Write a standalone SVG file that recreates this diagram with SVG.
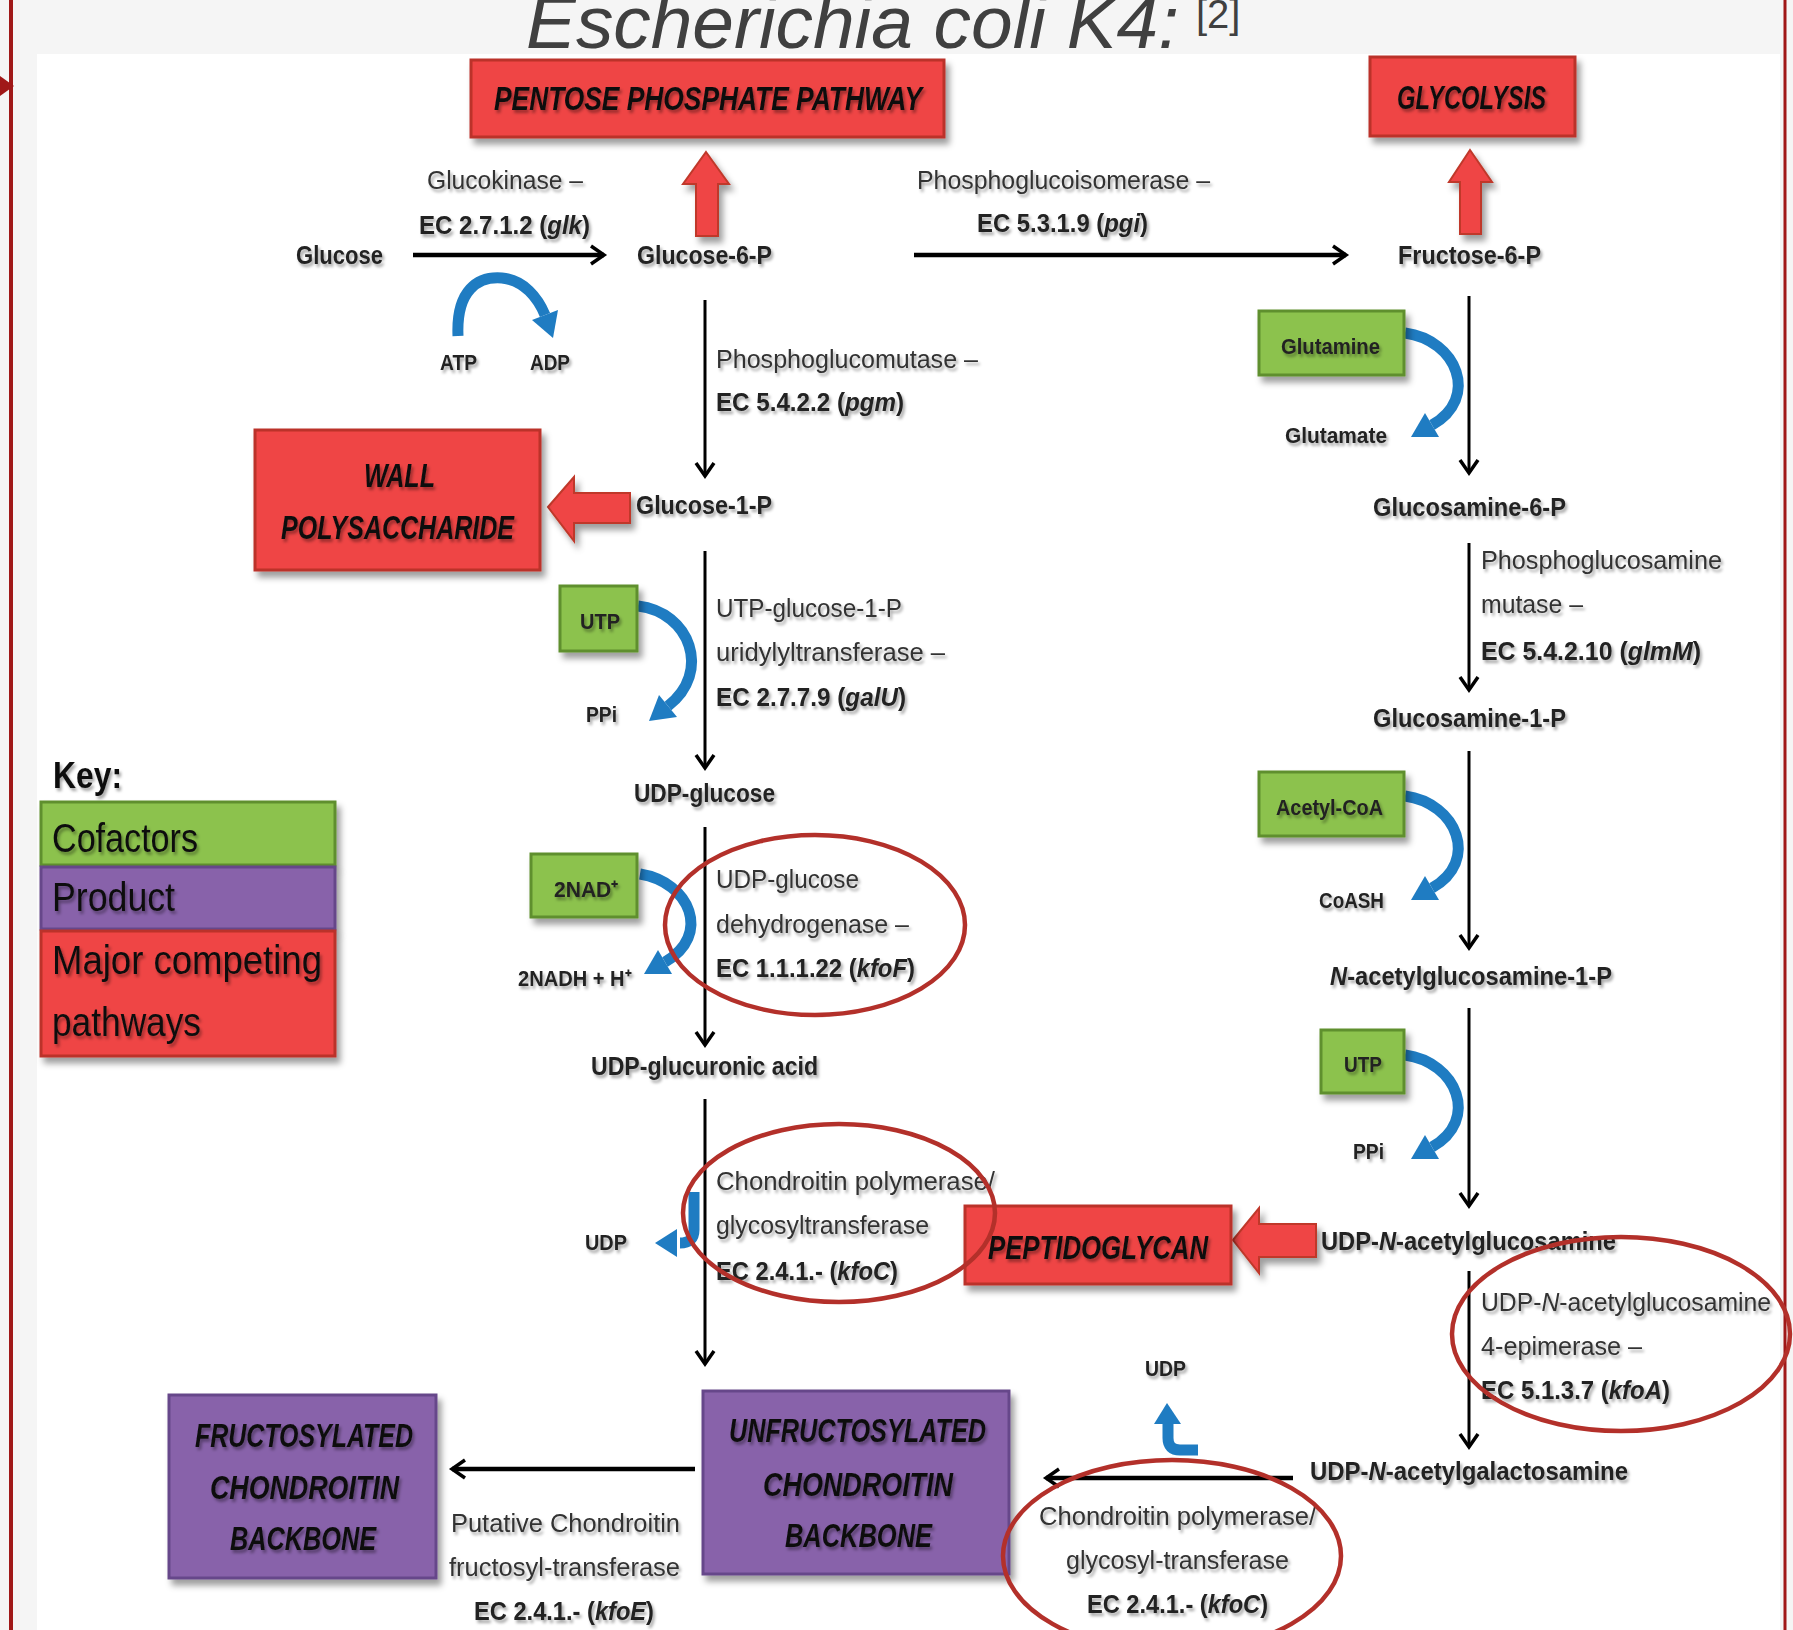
<svg xmlns="http://www.w3.org/2000/svg" width="1793" height="1630" viewBox="0 0 1793 1630">
<defs>
<filter id="sh" x="-10%" y="-10%" width="130%" height="140%"><feDropShadow dx="4" dy="6" stdDeviation="3" flood-color="#000" flood-opacity="0.38"/></filter>
<filter id="ts" x="-5%" y="-30%" width="115%" height="170%"><feDropShadow dx="2" dy="3" stdDeviation="1.6" flood-color="#000" flood-opacity="0.35"/></filter>
<marker id="ah" markerUnits="userSpaceOnUse" markerWidth="26" markerHeight="26" viewBox="0 0 26 26" refX="20" refY="13" orient="auto"><path d="M7,4 L20,13 L7,22" fill="none" stroke="#000" stroke-width="3.5" stroke-linejoin="miter"/></marker>
</defs>
<style>
text{font-family:"Liberation Sans Narrow","Liberation Sans",Arial,sans-serif;filter:url(#ts);}
.m{font-size:26px;font-weight:bold;fill:#222;}
.e{font-size:26px;fill:#333;}
.eb{font-size:26px;font-weight:bold;fill:#222;}
.s{font-size:22px;font-weight:bold;fill:#222;}
.bt{font-size:34px;font-weight:bold;font-style:italic;fill:#111;}
.k{font-size:40px;fill:#111;}
.red{fill:#ef4545;stroke:#bb3229;stroke-width:3;filter:url(#sh);}
.grn{fill:#8cc24e;stroke:#5e8f2e;stroke-width:3;filter:url(#sh);}
.pur{fill:#8862aa;stroke:#66468a;stroke-width:3;filter:url(#sh);}
.ln{stroke:#000;fill:none;marker-end:url(#ah);}
.blue{stroke:#1f7cc2;stroke-width:11;fill:none;}
.bh{fill:#1f7cc2;}
.ring{fill:none;stroke:#b3302a;stroke-width:4.5;}
.barr{fill:#ef4545;stroke:#c0392b;stroke-width:2;filter:url(#sh);}
</style>

<rect x="0" y="0" width="1793" height="1630" fill="#f5f5f5"/>
<rect x="37" y="54" width="1743" height="1576" fill="#ffffff"/>
<line x1="11" y1="0" x2="11" y2="1630" stroke="#a01818" stroke-width="4"/>
<polygon points="0,76 14,86 0,96" fill="#a01818"/>
<line x1="1785" y1="0" x2="1785" y2="1630" stroke="#a01818" stroke-width="3"/>

<g id="title">
<text x="526" y="48" font-size="74" font-style="italic" fill="#404040" textLength="653" lengthAdjust="spacingAndGlyphs" style="font-family:'Liberation Sans',Arial,sans-serif;filter:none">Escherichia coli K4:</text>
<text x="1196" y="28" font-size="40" fill="#404040" style="font-family:'Liberation Sans',Arial,sans-serif;filter:none">[2]</text>
</g>

<g id="connectors">
<line class="ln" x1="413" y1="255" x2="604" y2="255" stroke-width="4.5"/>
<line class="ln" x1="914" y1="255" x2="1346" y2="255" stroke-width="4.5"/>
<line class="ln" x1="705" y1="300" x2="705" y2="476" stroke-width="3"/>
<line class="ln" x1="705" y1="551" x2="705" y2="768" stroke-width="3"/>
<line class="ln" x1="705" y1="827" x2="705" y2="1045" stroke-width="3"/>
<line class="ln" x1="705" y1="1099" x2="705" y2="1364" stroke-width="3"/>
<line class="ln" x1="695" y1="1469" x2="452" y2="1469" stroke-width="4.5"/>
<line class="ln" x1="1293" y1="1478" x2="1046" y2="1478" stroke-width="4.5"/>
<line class="ln" x1="1469" y1="296" x2="1469" y2="473" stroke-width="3"/>
<line class="ln" x1="1469" y1="543" x2="1469" y2="690" stroke-width="3"/>
<line class="ln" x1="1469" y1="751" x2="1469" y2="948" stroke-width="3"/>
<line class="ln" x1="1469" y1="1008" x2="1469" y2="1206" stroke-width="3"/>
<line class="ln" x1="1469" y1="1271" x2="1469" y2="1447" stroke-width="3"/>

<polygon class="barr" points="706,152 729,184 718,184 718,236 696,236 696,184 683,184"/>
<polygon class="barr" points="1470,150 1492,182 1481,182 1481,234 1460,234 1460,182 1449,182"/>
<polygon class="barr" points="548,507 574,477 574,493 630,493 630,523 574,523 574,541"/>
<polygon class="barr" points="1233,1240 1259,1208 1259,1224 1316,1224 1316,1257 1259,1257 1259,1273"/>

<path class="blue" d="M458,336 C456,290 478,276 502,278 C524,280 538,298 545,315"/>
<polygon class="bh" points="532,320 558,310 553,338"/>
<path class="blue" d="M638,606 C690,612 712,672 668,706"/>
<polygon class="bh" points="659,695 677,717 649,721"/>
<path class="blue" d="M640,874 C690,882 712,935 665,962"/>
<polygon class="bh" points="658,950 672,974 644,974"/>
<path class="blue" d="M1405,333 C1457,340 1480,398 1432,425"/>
<polygon class="bh" points="1425,413 1439,437 1411,437"/>
<path class="blue" d="M1405,796 C1457,803 1480,861 1432,888"/>
<polygon class="bh" points="1425,876 1439,900 1411,900"/>
<path class="blue" d="M1405,1055 C1457,1062 1480,1120 1432,1147"/>
<polygon class="bh" points="1425,1135 1439,1159 1411,1159"/>
<path class="blue" d="M694,1192 L694,1230 Q694,1243 680,1243" stroke-width="9"/>
<polygon class="bh" points="655,1243 677,1229 677,1257"/>
<path class="blue" d="M1198,1450 L1180,1450 Q1168,1450 1168,1438 L1168,1422" stroke-width="9"/>
<polygon class="bh" points="1167,1403 1154,1424 1181,1424"/>
</g>

<g id="ppp"><rect class="red" x="471" y="60" width="473" height="77"/><text class="bt" x="494" y="110" textLength="428" lengthAdjust="spacingAndGlyphs">PENTOSE PHOSPHATE PATHWAY</text></g>
<g id="glycolysis"><rect class="red" x="1370" y="57" width="205" height="79"/><text class="bt" x="1397" y="109" textLength="149" lengthAdjust="spacingAndGlyphs">GLYCOLYSIS</text></g>
<g id="wall"><rect class="red" x="255" y="430" width="285" height="140"/><text class="bt" x="364" y="487" textLength="71" lengthAdjust="spacingAndGlyphs">WALL</text><text class="bt" x="281" y="539" textLength="233" lengthAdjust="spacingAndGlyphs">POLYSACCHARIDE</text></g>
<g id="peptidoglycan"><rect class="red" x="965" y="1206" width="266" height="78"/><text class="bt" x="988" y="1259" textLength="220" lengthAdjust="spacingAndGlyphs">PEPTIDOGLYCAN</text></g>
<g id="fructosylated"><rect class="pur" x="169" y="1395" width="267" height="183"/><text class="bt" x="195" y="1447" textLength="218" lengthAdjust="spacingAndGlyphs">FRUCTOSYLATED</text><text class="bt" x="210" y="1499" textLength="189" lengthAdjust="spacingAndGlyphs">CHONDROITIN</text><text class="bt" x="230" y="1550" textLength="146" lengthAdjust="spacingAndGlyphs">BACKBONE</text></g>
<g id="unfructosylated"><rect class="pur" x="703" y="1391" width="306" height="183"/><text class="bt" x="729" y="1442" textLength="257" lengthAdjust="spacingAndGlyphs">UNFRUCTOSYLATED</text><text class="bt" x="763" y="1496" textLength="190" lengthAdjust="spacingAndGlyphs">CHONDROITIN</text><text class="bt" x="785" y="1547" textLength="147" lengthAdjust="spacingAndGlyphs">BACKBONE</text></g>

<g id="utp1"><rect class="grn" x="560" y="586" width="77" height="65"/><text class="s" x="580" y="629" textLength="40" lengthAdjust="spacingAndGlyphs">UTP</text></g>
<g id="nad"><rect class="grn" x="531" y="854" width="106" height="63"/><text class="s" x="554" y="897" textLength="64" lengthAdjust="spacingAndGlyphs">2NAD⁺</text></g>
<g id="glutamine"><rect class="grn" x="1259" y="311" width="145" height="64"/><text class="s" x="1281" y="354" textLength="99" lengthAdjust="spacingAndGlyphs">Glutamine</text></g>
<g id="acetylcoa"><rect class="grn" x="1259" y="772" width="145" height="64"/><text class="s" x="1276" y="815" textLength="107" lengthAdjust="spacingAndGlyphs">Acetyl-CoA</text></g>
<g id="utp2"><rect class="grn" x="1321" y="1030" width="83" height="63"/><text class="s" x="1344" y="1072" textLength="38" lengthAdjust="spacingAndGlyphs">UTP</text></g>

<g id="glucose"><text class="m" x="296" y="264" textLength="87" lengthAdjust="spacingAndGlyphs">Glucose</text></g>
<g id="g6p"><text class="m" x="637" y="264" textLength="135" lengthAdjust="spacingAndGlyphs">Glucose-6-P</text></g>
<g id="f6p"><text class="m" x="1398" y="264" textLength="143" lengthAdjust="spacingAndGlyphs">Fructose-6-P</text></g>
<g id="g1p"><text class="m" x="636" y="514" textLength="136" lengthAdjust="spacingAndGlyphs">Glucose-1-P</text></g>
<g id="udpglc"><text class="m" x="634" y="802" textLength="141" lengthAdjust="spacingAndGlyphs">UDP-glucose</text></g>
<g id="udpgla"><text class="m" x="591" y="1075" textLength="227" lengthAdjust="spacingAndGlyphs">UDP-glucuronic acid</text></g>
<g id="gn6p"><text class="m" x="1373" y="516" textLength="193" lengthAdjust="spacingAndGlyphs">Glucosamine-6-P</text></g>
<g id="gn1p"><text class="m" x="1373" y="727" textLength="193" lengthAdjust="spacingAndGlyphs">Glucosamine-1-P</text></g>
<g id="nag1p"><text class="m" x="1330" y="985" textLength="282" lengthAdjust="spacingAndGlyphs"><tspan font-style="italic">N</tspan>-acetylglucosamine-1-P</text></g>
<g id="udpglcnac"><text class="m" x="1321" y="1250" textLength="295" lengthAdjust="spacingAndGlyphs">UDP-<tspan font-style="italic">N</tspan>-acetylglucosamine</text></g>
<g id="udpgalnac"><text class="m" x="1310" y="1480" textLength="318" lengthAdjust="spacingAndGlyphs">UDP-<tspan font-style="italic">N</tspan>-acetylgalactosamine</text></g>

<g id="labels">
<text class="e" x="427" y="189" textLength="156" lengthAdjust="spacingAndGlyphs">Glucokinase –</text>
<text class="eb" x="419" y="234" textLength="171" lengthAdjust="spacingAndGlyphs">EC 2.7.1.2 (<tspan font-style="italic">glk</tspan>)</text>
<text class="e" x="917" y="189" textLength="293" lengthAdjust="spacingAndGlyphs">Phosphoglucoisomerase –</text>
<text class="eb" x="977" y="232" textLength="171" lengthAdjust="spacingAndGlyphs">EC 5.3.1.9 (<tspan font-style="italic">pgi</tspan>)</text>
<text class="e" x="716" y="368" textLength="262" lengthAdjust="spacingAndGlyphs">Phosphoglucomutase –</text>
<text class="eb" x="716" y="411" textLength="188" lengthAdjust="spacingAndGlyphs">EC 5.4.2.2 (<tspan font-style="italic">pgm</tspan>)</text>
<text class="e" x="716" y="617" textLength="186" lengthAdjust="spacingAndGlyphs">UTP-glucose-1-P</text>
<text class="e" x="716" y="661" textLength="229" lengthAdjust="spacingAndGlyphs">uridylyltransferase –</text>
<text class="eb" x="716" y="706" textLength="190" lengthAdjust="spacingAndGlyphs">EC 2.7.7.9 (<tspan font-style="italic">galU</tspan>)</text>
<text class="e" x="716" y="888" textLength="143" lengthAdjust="spacingAndGlyphs">UDP-glucose</text>
<text class="e" x="716" y="933" textLength="193" lengthAdjust="spacingAndGlyphs">dehydrogenase –</text>
<text class="eb" x="716" y="977" textLength="199" lengthAdjust="spacingAndGlyphs">EC 1.1.1.22 (<tspan font-style="italic">kfoF</tspan>)</text>
<text class="e" x="716" y="1190" textLength="279" lengthAdjust="spacingAndGlyphs">Chondroitin polymerase/</text>
<text class="e" x="716" y="1234" textLength="213" lengthAdjust="spacingAndGlyphs">glycosyltransferase</text>
<text class="eb" x="716" y="1280" textLength="182" lengthAdjust="spacingAndGlyphs">EC 2.4.1.- (<tspan font-style="italic">kfoC</tspan>)</text>
<text class="e" x="451" y="1532" textLength="229" lengthAdjust="spacingAndGlyphs">Putative Chondroitin</text>
<text class="e" x="449" y="1576" textLength="231" lengthAdjust="spacingAndGlyphs">fructosyl-transferase</text>
<text class="eb" x="474" y="1620" textLength="180" lengthAdjust="spacingAndGlyphs">EC 2.4.1.- (<tspan font-style="italic">kfoE</tspan>)</text>
<text class="e" x="1039" y="1525" textLength="277" lengthAdjust="spacingAndGlyphs">Chondroitin polymerase/</text>
<text class="e" x="1066" y="1569" textLength="223" lengthAdjust="spacingAndGlyphs">glycosyl-transferase</text>
<text class="eb" x="1087" y="1613" textLength="181" lengthAdjust="spacingAndGlyphs">EC 2.4.1.- (<tspan font-style="italic">kfoC</tspan>)</text>
<text class="e" x="1481" y="569" textLength="241" lengthAdjust="spacingAndGlyphs">Phosphoglucosamine</text>
<text class="e" x="1481" y="613" textLength="102" lengthAdjust="spacingAndGlyphs">mutase –</text>
<text class="eb" x="1481" y="660" textLength="220" lengthAdjust="spacingAndGlyphs">EC 5.4.2.10 (<tspan font-style="italic">glmM</tspan>)</text>
<text class="e" x="1481" y="1311" textLength="290" lengthAdjust="spacingAndGlyphs">UDP-<tspan font-style="italic">N</tspan>-acetylglucosamine</text>
<text class="e" x="1481" y="1355" textLength="161" lengthAdjust="spacingAndGlyphs">4-epimerase –</text>
<text class="eb" x="1481" y="1399" textLength="189" lengthAdjust="spacingAndGlyphs">EC 5.1.3.7 (<tspan font-style="italic">kfoA</tspan>)</text>
<text class="s" x="440" y="370" textLength="37" lengthAdjust="spacingAndGlyphs">ATP</text>
<text class="s" x="530" y="370" textLength="40" lengthAdjust="spacingAndGlyphs">ADP</text>
<text class="s" x="586" y="722" textLength="31" lengthAdjust="spacingAndGlyphs">PPi</text>
<text class="s" x="518" y="986" textLength="113" lengthAdjust="spacingAndGlyphs">2NADH + H⁺</text>
<text class="s" x="1285" y="443" textLength="102" lengthAdjust="spacingAndGlyphs">Glutamate</text>
<text class="s" x="1319" y="908" textLength="65" lengthAdjust="spacingAndGlyphs">CoASH</text>
<text class="s" x="1353" y="1159" textLength="31" lengthAdjust="spacingAndGlyphs">PPi</text>
<text class="s" x="585" y="1250" textLength="42" lengthAdjust="spacingAndGlyphs">UDP</text>
<text class="s" x="1145" y="1376" textLength="41" lengthAdjust="spacingAndGlyphs">UDP</text>
</g>

<g id="highlights">
<ellipse class="ring" cx="815" cy="925" rx="150" ry="90"/>
<ellipse class="ring" cx="839" cy="1213" rx="156" ry="89"/>
<ellipse class="ring" cx="1621" cy="1334" rx="169" ry="97"/>
<ellipse class="ring" cx="1172" cy="1556" rx="169" ry="96"/>
</g>

<g id="key">
<text x="53" y="788" font-size="36" font-weight="bold" fill="#111" textLength="69" lengthAdjust="spacingAndGlyphs">Key:</text>
<rect class="grn" x="41" y="802" width="294" height="63"/>
<rect class="pur" x="41" y="867" width="294" height="62"/>
<rect class="red" x="41" y="931" width="294" height="125"/>
<text class="k" x="52" y="852" textLength="146" lengthAdjust="spacingAndGlyphs">Cofactors</text>
<text class="k" x="52" y="911" textLength="123" lengthAdjust="spacingAndGlyphs">Product</text>
<text class="k" x="52" y="974" textLength="270" lengthAdjust="spacingAndGlyphs">Major competing</text>
<text class="k" x="52" y="1036" textLength="149" lengthAdjust="spacingAndGlyphs">pathways</text>
</g>
</svg>
